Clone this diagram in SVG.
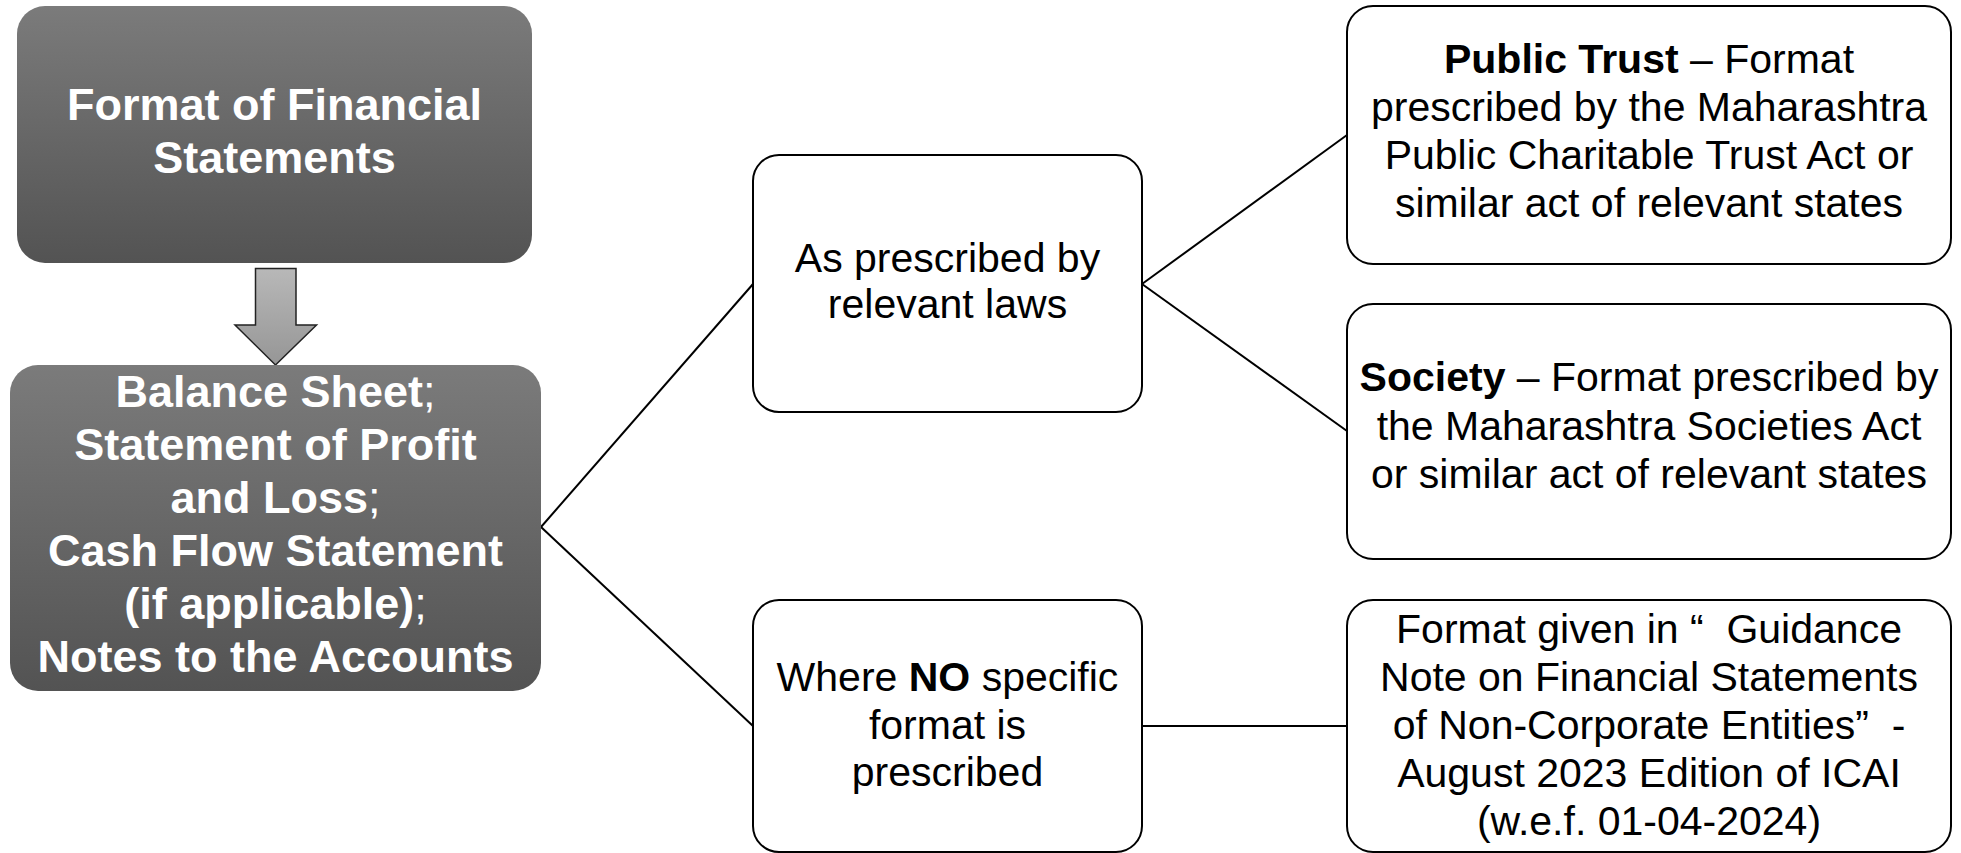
<svg xmlns="http://www.w3.org/2000/svg" width="1961" height="853" viewBox="0 0 1961 853">
  <defs>
    <linearGradient id="darkGrad" x1="0" y1="0" x2="0" y2="1">
      <stop offset="0" stop-color="#7b7b7b"/>
      <stop offset="1" stop-color="#535353"/>
    </linearGradient>
    <linearGradient id="arrowGrad" x1="0" y1="0" x2="0" y2="1">
      <stop offset="0" stop-color="#b8b8b8"/>
      <stop offset="1" stop-color="#969696"/>
    </linearGradient>
    <style>
      .dark { fill: url(#darkGrad); stroke: none; }
      .light { fill: #ffffff; stroke: #000000; stroke-width: 2; }
      .dt { font-family: "Liberation Sans", Arial, sans-serif; font-size: 45px; font-weight: bold; fill: #ffffff; text-anchor: middle; }
      .lt { font-family: "Liberation Sans", Arial, sans-serif; font-size: 41px; fill: #000000; text-anchor: middle; }
      .b { font-weight: bold; }
      .n { font-weight: normal; }
      .conn { stroke: #000000; stroke-width: 2; fill: none; }
    </style>
  </defs>
  <rect width="1961" height="853" fill="#ffffff"/>

  <g id="connectors">
    <line class="conn" x1="541" y1="527" x2="753" y2="284"/>
    <line class="conn" x1="541" y1="527" x2="753" y2="726"/>
    <line class="conn" x1="1142" y1="284" x2="1347" y2="135"/>
    <line class="conn" x1="1142" y1="284" x2="1347" y2="431"/>
    <line class="conn" x1="1142" y1="726" x2="1347" y2="726"/>
  </g>

  <g id="node-format">
    <rect class="dark" x="17" y="6" width="515" height="257" rx="28" ry="28"/>
    <text class="dt" x="274.5" y="120">Format of Financial</text>
    <text class="dt" x="274.5" y="173">Statements</text>
  </g>

  <g id="arrow-down">
    <path d="M255.5,268.5 H296 V325 H316.5 L275.5,365 L235,325 H255.5 Z" fill="url(#arrowGrad)" stroke="#222222" stroke-width="1.5" stroke-linejoin="miter"/>
  </g>

  <g id="node-statements">
    <rect class="dark" x="10" y="365" width="531" height="326" rx="28" ry="28"/>
    <text class="dt" x="275.5" y="407">Balance Sheet<tspan class="n">;</tspan></text>
    <text class="dt" x="275.5" y="460">Statement of Profit</text>
    <text class="dt" x="275.5" y="513">and Loss<tspan class="n">;</tspan></text>
    <text class="dt" x="275.5" y="566">Cash Flow Statement</text>
    <text class="dt" x="275.5" y="619">(if applicable)<tspan class="n">;</tspan></text>
    <text class="dt" x="275.5" y="672">Notes to the Accounts</text>
  </g>

  <g id="node-laws">
    <rect class="light" x="753" y="155" width="389" height="257" rx="26" ry="26"/>
    <text class="lt" x="947.5" y="272">As prescribed by</text>
    <text class="lt" x="947.5" y="318">relevant laws</text>
  </g>

  <g id="node-no-format">
    <rect class="light" x="753" y="600" width="389" height="252" rx="26" ry="26"/>
    <text class="lt" x="947.5" y="691">Where <tspan class="b">NO</tspan> specific</text>
    <text class="lt" x="947.5" y="738.5">format is</text>
    <text class="lt" x="947.5" y="786">prescribed</text>
  </g>

  <g id="node-public-trust">
    <rect class="light" x="1347" y="6" width="604" height="258" rx="26" ry="26"/>
    <text class="lt" x="1649" y="73"><tspan class="b">Public Trust</tspan> – Format</text>
    <text class="lt" x="1649" y="121">prescribed by the Maharashtra</text>
    <text class="lt" x="1649" y="169">Public Charitable Trust Act or</text>
    <text class="lt" x="1649" y="217">similar act of relevant states</text>
  </g>

  <g id="node-society">
    <rect class="light" x="1347" y="304" width="604" height="255" rx="26" ry="26"/>
    <text class="lt" x="1649" y="391"><tspan class="b">Society</tspan> – Format prescribed by</text>
    <text class="lt" x="1649" y="440">the Maharashtra Societies Act</text>
    <text class="lt" x="1649" y="488">or similar act of relevant states</text>
  </g>

  <g id="node-guidance">
    <rect class="light" x="1347" y="600" width="604" height="252" rx="26" ry="26"/>
    <text class="lt" x="1649" y="643" xml:space="preserve">Format given in “  Guidance</text>
    <text class="lt" x="1649" y="691">Note on Financial Statements</text>
    <text class="lt" x="1649" y="739" xml:space="preserve">of Non-Corporate Entities”  -</text>
    <text class="lt" x="1649" y="787">August 2023 Edition of ICAI</text>
    <text class="lt" x="1649" y="835">(w.e.f. 01-04-2024)</text>
  </g>
</svg>
